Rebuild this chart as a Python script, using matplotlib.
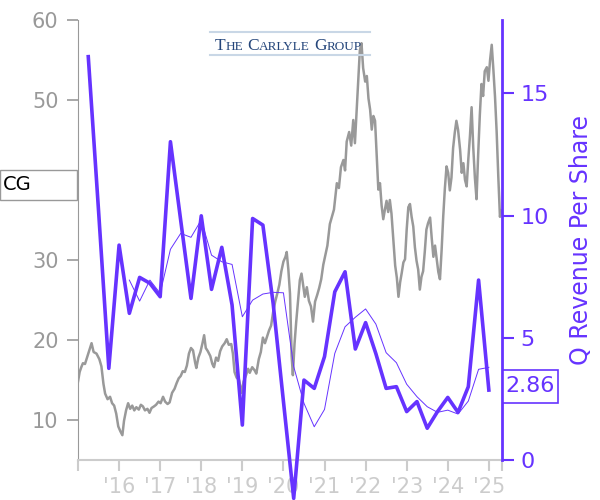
import numpy as np
import matplotlib
matplotlib.use("Agg")
import matplotlib.pyplot as plt
from matplotlib.patches import Rectangle
from matplotlib.lines import Line2D
from matplotlib.transforms import IdentityTransform

# ============================================
# DATA
# ============================================
price_years = [
    2015.00, 2015.04, 2015.08, 2015.12, 2015.17, 2015.22, 2015.28, 2015.33, 2015.38, 2015.45,
    2015.52, 2015.57, 2015.62, 2015.66, 2015.72, 2015.78, 2015.83, 2015.88, 2015.93, 2015.98,
    2016.03, 2016.08, 2016.12, 2016.17, 2016.22, 2016.27, 2016.32, 2016.37, 2016.42, 2016.48,
    2016.53, 2016.58, 2016.63, 2016.69, 2016.74, 2016.79, 2016.85, 2016.90, 2016.96, 2017.01,
    2017.07, 2017.12, 2017.18, 2017.23, 2017.29, 2017.35, 2017.40, 2017.45, 2017.50, 2017.55,
    2017.60, 2017.65, 2017.70, 2017.75, 2017.80, 2017.85, 2017.88, 2017.93, 2017.98, 2018.03,
    2018.07, 2018.11, 2018.16, 2018.22, 2018.27, 2018.31, 2018.36, 2018.41, 2018.46, 2018.51,
    2018.57, 2018.62, 2018.67, 2018.73, 2018.77, 2018.81, 2018.86, 2018.92, 2018.98, 2019.03,
    2019.09, 2019.14, 2019.18, 2019.24, 2019.30, 2019.34, 2019.40, 2019.45, 2019.50, 2019.55,
    2019.60, 2019.65, 2019.70, 2019.75, 2019.80, 2019.85, 2019.90, 2019.95, 2020.00, 2020.05,
    2020.08, 2020.12, 2020.16, 2020.20, 2020.23, 2020.27, 2020.31, 2020.35, 2020.40, 2020.44,
    2020.48, 2020.52, 2020.57, 2020.62, 2020.67, 2020.72, 2020.77, 2020.82, 2020.87, 2020.92,
    2020.97, 2021.02, 2021.07, 2021.13, 2021.18, 2021.23, 2021.30, 2021.35, 2021.40, 2021.46,
    2021.50, 2021.54, 2021.60, 2021.65, 2021.70, 2021.74, 2021.78, 2021.82, 2021.86, 2021.90,
    2021.94, 2021.99, 2022.03, 2022.07, 2022.11, 2022.15, 2022.19, 2022.23, 2022.27, 2022.31,
    2022.35, 2022.39, 2022.43, 2022.47, 2022.51, 2022.55, 2022.59, 2022.63, 2022.68, 2022.72,
    2022.76, 2022.80, 2022.84, 2022.88, 2022.92, 2022.96, 2023.00, 2023.04, 2023.08, 2023.12,
    2023.16, 2023.20, 2023.24, 2023.28, 2023.32, 2023.36, 2023.40, 2023.44, 2023.48, 2023.52,
    2023.57, 2023.61, 2023.65, 2023.69, 2023.73, 2023.77, 2023.81, 2023.85, 2023.89, 2023.93,
    2023.97, 2024.01, 2024.05, 2024.09, 2024.13, 2024.17, 2024.21, 2024.25, 2024.30, 2024.34,
    2024.38, 2024.42, 2024.46, 2024.50, 2024.54, 2024.58, 2024.62, 2024.66, 2024.70, 2024.74,
    2024.78, 2024.82, 2024.86, 2024.90, 2024.95, 2024.99, 2025.03, 2025.07, 2025.11, 2025.15,
    2025.19, 2025.23, 2025.27, 2025.30,
]
price_values = [
    14.8, 16.0, 16.6, 17.1, 17.0, 17.8, 18.8, 19.6, 18.5, 18.3,
    17.6, 16.7, 14.5, 13.3, 12.6, 12.9, 12.1, 11.8, 10.8, 9.2,
    8.6, 8.1, 9.9, 11.2, 12.1, 11.4, 11.8, 11.2, 11.6, 11.3,
    11.9, 11.7, 11.2, 11.4, 10.9, 11.5, 11.7, 11.9, 12.3, 12.1,
    12.9, 12.3, 12.0, 12.2, 13.4, 13.9, 14.6, 15.2, 15.5, 16.1,
    16.0, 16.8, 18.3, 19.0, 18.7, 17.2, 16.5, 17.8, 18.5, 19.6,
    20.6, 19.0, 18.6, 18.0, 17.0, 16.6, 17.8, 17.4, 18.6, 19.2,
    19.6, 20.1, 19.4, 19.5, 18.3, 16.0, 15.3, 15.0, 13.4, 14.8,
    15.6, 16.4, 15.9, 16.6, 16.2, 15.8, 17.6, 18.5, 20.3, 19.6,
    20.4, 21.2, 21.8, 23.5, 24.8, 25.8, 26.9, 28.6, 29.8, 30.4,
    31.0, 28.8, 25.8, 18.0, 15.6, 19.5, 22.2, 24.6, 27.5, 28.3,
    26.8, 25.4, 26.6, 24.9, 24.2, 22.3, 24.8, 25.6, 26.5, 27.6,
    29.4, 30.6, 31.8, 34.5, 35.4, 36.3, 39.6, 39.0, 41.6, 42.5,
    41.2, 44.8, 46.0, 44.3, 47.5, 44.6, 48.5, 52.5, 56.2, 57.1,
    54.0, 52.3, 53.0, 50.2, 48.8, 46.3, 48.0, 47.4, 43.0, 38.8,
    39.6, 36.8, 35.1, 36.3, 37.4, 36.0, 37.5, 35.8, 32.1, 29.3,
    27.8, 25.4, 27.2, 28.4, 29.7, 30.1, 33.8, 36.6, 37.0, 35.4,
    34.2, 31.6, 29.9, 28.8, 26.3, 27.9, 28.6, 31.0, 33.8, 34.6,
    35.3, 32.7, 30.4, 31.8, 30.1, 28.5, 27.6, 31.2, 35.5, 39.0,
    41.7, 40.9, 38.7, 40.3, 44.0, 45.9, 47.4, 46.3, 43.8, 40.9,
    42.1, 40.0, 39.2, 42.6, 45.5, 49.1, 44.1, 40.3, 37.6, 43.2,
    48.1, 52.0, 50.5, 53.6, 54.1, 52.4, 55.0, 56.9, 53.8, 50.4,
    46.0, 40.4, 35.4, 36.2,
]

# quarterly revenue per share
rev_years = [
    2015.25, 2015.50, 2015.75, 2016.00, 2016.25, 2016.50, 2016.75, 2017.00,
    2017.25, 2017.50, 2017.75, 2018.00, 2018.25, 2018.50, 2018.75, 2019.00,
    2019.25, 2019.50, 2019.75, 2020.00, 2020.25, 2020.50, 2020.75, 2021.00,
    2021.25, 2021.50, 2021.75, 2022.00, 2022.25, 2022.50, 2022.75, 2023.00,
    2023.25, 2023.50, 2023.75, 2024.00, 2024.25, 2024.50, 2024.75, 2025.00,
]
rev_values = [
    16.5, 10.2, 3.75, 8.79, 6.0, 7.47, 7.23, 6.68,
    13.02, 9.8, 6.61, 9.99, 6.98, 8.7, 6.34, 1.43,
    9.88, 9.61, 6.4, 2.4, -1.57, 3.27, 2.93, 4.23,
    6.88, 7.70, 4.54, 5.62, 4.35, 2.93, 3.0, 1.98,
    2.39, 1.3, 1.98, 2.56, 1.95, 3.0, 7.36, 2.86,
]

# trailing four-quarter average (thin line)
avg_years = rev_years[4:]
avg_values = [
    7.36, 6.5, 7.36, 6.82, 8.62, 9.27, 9.11, 9.82,
    8.38, 8.11, 8.0, 5.86, 6.54, 6.79, 6.86, 6.84,
    3.82, 2.32, 1.36, 2.07, 4.36, 5.45, 5.84, 6.18,
    5.56, 4.39, 3.98, 3.1, 2.59, 2.18, 1.95, 2.04,
    1.88, 2.41, 3.71, 3.79,
]

tick_years = list(range(2016, 2026))
tick_labels = ["'16", "'17", "'18", "'19", "'20", "'21", "'22", "'23", "'24", "'25"]
ticker = "CG"
last_value = "2.86"

# ============================================
# STYLE
# ============================================
purple = "#6633ff"
gray = "#999999"
light = "#cccccc"

fig = plt.figure(figsize=(6, 5), dpi=100)
ax = fig.add_axes([78 / 600, 40 / 500, 424 / 600, 440 / 500])
ax2 = ax.twinx()

# price line (left axis)
ax.plot(price_years, price_values, color=gray, lw=1.8, zorder=2)
ax.set_ylim(5, 60)
ax.set_yticks([10, 20, 30, 40, 50, 60])
ax.tick_params(axis="y", colors=gray, labelsize=15, length=8, width=1.2, pad=6)
ax.spines["left"].set_color(gray)
ax.spines["top"].set_visible(False)
ax.spines["right"].set_visible(False)
ax.spines["bottom"].set_color(light)
ax.spines["bottom"].set_linewidth(1.5)

ax.set_xlim(2015.0, 2025.32)
ax.set_xticks([2015.0] + tick_years + [2025.32])
ax.set_xticklabels([""] + tick_labels + [""])
ax.tick_params(axis="x", colors=light, labelcolor=light, labelsize=15,
               length=8, width=1.5, pad=4)

# revenue lines (right axis)
ax2.plot(rev_years, rev_values, color=purple, lw=2.6, clip_on=False, zorder=3)
ax2.plot(avg_years, avg_values, color=purple, lw=0.7, zorder=3)
ax2.set_ylim(0, 18)
ax2.set_yticks([0, 5, 10, 15])
ax2.tick_params(axis="y", colors=purple, labelsize=16, length=8.5, width=1.5, pad=5)
ax2.spines["right"].set_color(purple)
ax2.spines["right"].set_linewidth(2)
for s in ["left", "top", "bottom"]:
    ax2.spines[s].set_visible(False)
ax2.set_ylabel("Q Revenue Per Share", color=purple, fontsize=17, labelpad=14)

# ticker box on the left
fig.patches.append(Rectangle((0, 300 / 500), 77 / 600, 30 / 500, transform=fig.transFigure,
                             facecolor="white", edgecolor=gray, lw=1, zorder=5))
fig.text(3 / 600, 315 / 500, ticker, fontsize=14, color="black", va="center", ha="left", zorder=6)

# last value box on the right
fig.patches.append(Rectangle((503 / 600, 97 / 500), 55 / 600, 33 / 500, transform=fig.transFigure,
                             facecolor="white", edgecolor=purple, lw=1.2, zorder=5))
fig.text(530.5 / 600, 113.5 / 500, last_value, fontsize=16, color=purple, va="center", ha="center", zorder=6)

# company logo (small caps drawn piece by piece)
logo_color = "#24457a"
logo_pieces = [("T", 12.5), ("HE", 9.5), (" ", 9.5), ("C", 12.5), ("ARLYLE", 9.5), (" ", 9.5),
               ("G", 12.5), ("ROUP", 9.5)]
renderer = fig.canvas.get_renderer()
x_px = 215
base_px = 500 - 50
for txt, size in logo_pieces:
    if txt == " ":
        x_px += 4
        continue
    t = fig.text(x_px, base_px, txt, fontsize=size, color=logo_color, family="Liberation Serif",
                 transform=IdentityTransform(), va="baseline", ha="left", zorder=1)
    x_px += t.get_window_extent(renderer=renderer).width
fig.lines.append(Line2D([210, 370], [500 - 32, 500 - 32], transform=IdentityTransform(),
                        color="#c9d7e6", lw=1.5, zorder=1))
fig.lines.append(Line2D([210, 370], [500 - 55, 500 - 55], transform=IdentityTransform(),
                        color="#c9d7e6", lw=1.5, zorder=1))

fig.savefig("out.png", dpi=100)
